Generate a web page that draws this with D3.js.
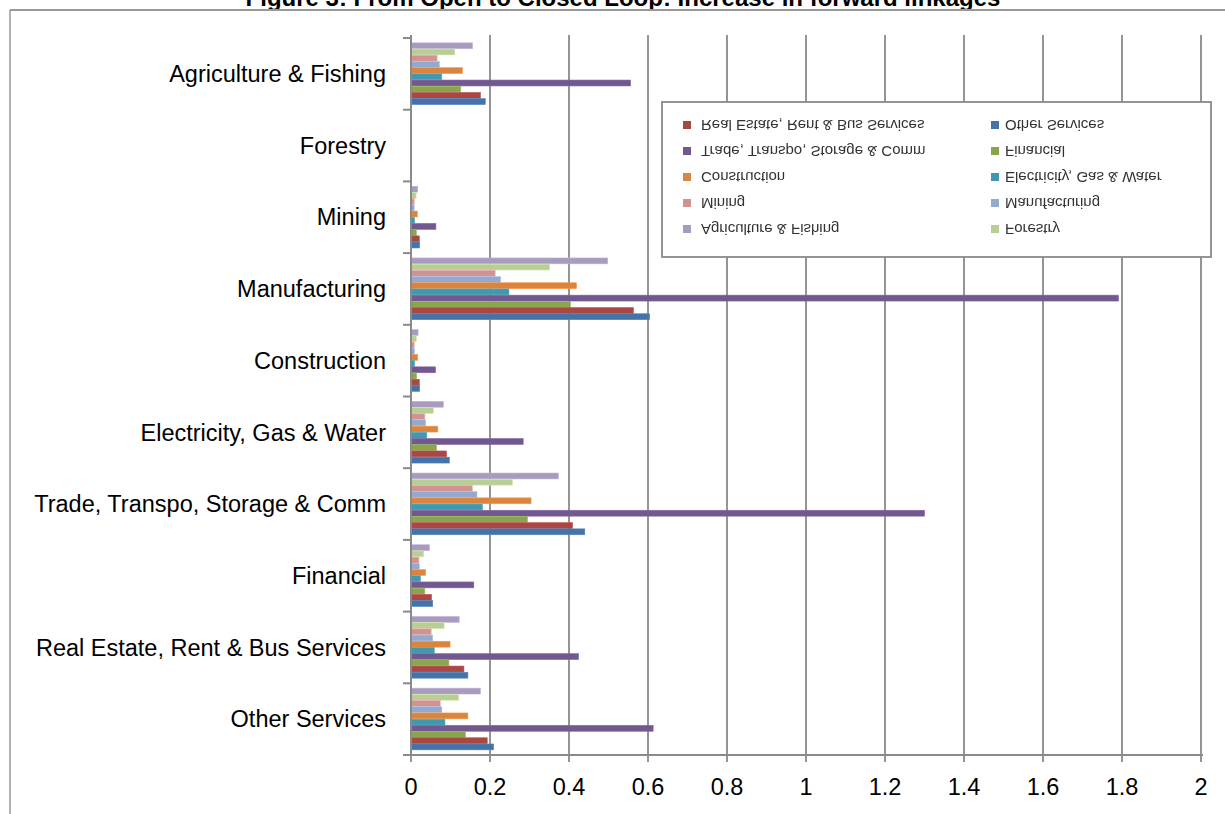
<!DOCTYPE html>
<html>
<head>
<meta charset="utf-8">
<script src="https://cdn.jsdelivr.net/npm/d3@7"></script>
<style>
  html, body { margin: 0; padding: 0; background: #fff; }
  svg { display: block; }
  text { font-family: "Liberation Sans", Arial, sans-serif; fill: #000; }
</style>
</head>
<body>
<svg id="chart" width="1225" height="814"></svg>
<script>
// Sectors on the category axis, top to bottom
const categories = [
  "Agriculture & Fishing", "Forestry", "Mining", "Manufacturing", "Construction",
  "Electricity, Gas & Water", "Trade, Transpo, Storage & Comm", "Financial",
  "Real Estate, Rent & Bus Services", "Other Services"
];

// Forward-linkage increase per series, one value per category above
const agricultureFishing = [0.156, 0, 0.017, 0.498, 0.018, 0.082, 0.373, 0.047, 0.122, 0.176];
const forestry           = [0.111, 0, 0.013, 0.351, 0.0135, 0.057, 0.257, 0.032, 0.084, 0.121];
const mining             = [0.066, 0, 0.008, 0.213, 0.008, 0.035, 0.155, 0.020, 0.051, 0.074];
const manufacturing      = [0.072, 0, 0.008, 0.227, 0.009, 0.037, 0.167, 0.021, 0.055, 0.078];
const construction       = [0.130, 0, 0.016, 0.419, 0.017, 0.068, 0.304, 0.037, 0.099, 0.144];
const electricityGasWater= [0.078, 0, 0.009, 0.248, 0.009, 0.040, 0.181, 0.024, 0.059, 0.086];
const tradeTranspo       = [0.556, 0, 0.063, 1.791, 0.062, 0.284, 1.300, 0.159, 0.424, 0.613];
const financial          = [0.126, 0, 0.0135, 0.404, 0.014, 0.065, 0.295, 0.035, 0.096, 0.138];
const realEstate         = [0.176, 0, 0.021, 0.563, 0.021, 0.090, 0.409, 0.052, 0.134, 0.193];
const otherServices      = [0.188, 0, 0.022, 0.604, 0.022, 0.097, 0.440, 0.055, 0.144, 0.209];

const xTicks = [0, 0.2, 0.4, 0.6, 0.8, 1, 1.2, 1.4, 1.6, 1.8, 2];
const xTickLabels = ["0", "0.2", "0.4", "0.6", "0.8", "1", "1.2", "1.4", "1.6", "1.8", "2"];

// Series, listed in the order their bars stack inside a group (top first)
const series = [
  { name: "Agriculture & Fishing", values: agricultureFishing, color: "#A99BBD" },
  { name: "Forestry", values: forestry, color: "#B9CD96" },
  { name: "Mining", values: mining, color: "#D19392" },
  { name: "Manufacturing", values: manufacturing, color: "#93A9CF" },
  { name: "Construction", values: construction, color: "#DB843D" },
  { name: "Electricity, Gas & Water", values: electricityGasWater, color: "#4198AF" },
  { name: "Trade, Transpo, Storage & Comm", values: tradeTranspo, color: "#71588F" },
  { name: "Financial", values: financial, color: "#89A54E" },
  { name: "Real Estate, Rent & Bus Services", values: realEstate, color: "#AA4643" },
  { name: "Other Services", values: otherServices, color: "#4572A7" }
];

// Legend layout: two columns of five rows
const legendLeft = ["Real Estate, Rent & Bus Services", "Trade, Transpo, Storage & Comm", "Construction", "Mining", "Agriculture & Fishing"];
const legendRight = ["Other Services", "Financial", "Electricity, Gas & Water", "Manufacturing", "Forestry"];

const svg = d3.select("#chart");
const colorOf = new Map(series.map(s => [s.name, s.color]));

const plot = { left: 411, right: 1201, top: 38, bottom: 755 };

const x = d3.scaleLinear().domain([0, 2]).range([plot.left, plot.right]);
const y0 = d3.scaleBand().domain(categories).range([plot.top, plot.bottom])
  .paddingInner(0.135).paddingOuter(0.0675);
const y1 = d3.scaleBand().domain(series.map(s => s.name)).range([0, y0.bandwidth()]);

// Title (sits above the frame line)
svg.append("text")
  .attr("x", 623).attr("y", 6)
  .attr("text-anchor", "middle")
  .style("font-weight", "bold").style("font-size", "24px")
  .text("Figure 3: From Open to Closed Loop: Increase in forward linkages");

// Frame
svg.append("line").attr("x1", 10).attr("x2", 1225).attr("y1", 10).attr("y2", 10)
  .attr("stroke", "#999").attr("stroke-width", 2);
svg.append("line").attr("x1", 10).attr("x2", 10).attr("y1", 10).attr("y2", 814)
  .attr("stroke", "#999").attr("stroke-width", 1.5);

// Vertical gridlines
svg.append("g").selectAll("line")
  .data(xTicks.filter(t => t > 0))
  .join("line")
  .attr("x1", d => x(d)).attr("x2", d => x(d))
  .attr("y1", 35).attr("y2", plot.bottom)
  .attr("stroke", "#8a8a8a").attr("stroke-width", 1.8);

// Bars
const groups = svg.append("g").selectAll("g")
  .data(categories)
  .join("g")
  .attr("transform", d => `translate(0,${y0(d)})`);

groups.selectAll("rect")
  .data((cat, i) => series.map(s => ({ name: s.name, value: s.values[i], color: s.color })))
  .join("rect")
  .attr("x", x(0))
  .attr("y", d => y1(d.name))
  .attr("width", d => x(d.value) - x(0))
  .attr("height", y1.bandwidth() - 0.3)
  .attr("fill", d => d.color)
  .attr("stroke", d => d3.color(d.color).brighter(0.4))
  .attr("stroke-width", d => d.value > 0 ? 0.6 : 0);

// Category axis
const yAxisG = svg.append("g").attr("transform", `translate(${plot.left},0)`);
yAxisG.append("line").attr("x1", 0).attr("x2", 0).attr("y1", 35).attr("y2", plot.bottom)
  .attr("stroke", "#8a8a8a").attr("stroke-width", 2);
const step = y0.step();
const boundaries = d3.range(categories.length + 1).map(i => plot.top + i * step);
yAxisG.selectAll("line.tick").data(boundaries).join("line")
  .attr("class", "tick")
  .attr("x1", -8).attr("x2", 0).attr("y1", d => d).attr("y2", d => d)
  .attr("stroke", "#8a8a8a").attr("stroke-width", 2);
yAxisG.selectAll("text").data(categories).join("text")
  .attr("x", -25)
  .attr("y", d => y0(d) + y0.bandwidth() / 2)
  .attr("dy", "0.35em")
  .attr("text-anchor", "end")
  .style("font-size", "23.5px")
  .text(d => d);

// Value axis
const xAxisG = svg.append("g").attr("transform", `translate(0,${plot.bottom})`);
xAxisG.append("line").attr("x1", plot.left - 8).attr("x2", plot.right + 2).attr("y1", 0).attr("y2", 0)
  .attr("stroke", "#8a8a8a").attr("stroke-width", 2);
xAxisG.selectAll("line.tick").data(xTicks).join("line")
  .attr("class", "tick")
  .attr("x1", d => x(d)).attr("x2", d => x(d)).attr("y1", 0).attr("y2", 7)
  .attr("stroke", "#8a8a8a").attr("stroke-width", 1.8);
xAxisG.selectAll("text").data(xTicks).join("text")
  .attr("x", d => x(d))
  .attr("y", 40)
  .attr("text-anchor", "middle")
  .style("font-size", "23.5px")
  .text((d, i) => xTickLabels[i]);

// Legend (entries drawn mirrored top-to-bottom)
const defs = svg.append("defs");
defs.append("filter").attr("id", "soft")
  .append("feGaussianBlur").attr("stdDeviation", 0.45);

const legend = svg.append("g");
legend.append("rect")
  .attr("x", 662).attr("y", 102).attr("width", 549).attr("height", 155)
  .attr("fill", "#fff").attr("stroke", "#8a8a8a").attr("stroke-width", 1.8);

const rowY = [125, 151, 177, 203, 229];
const legendItems = [
  ...legendLeft.map((n, i) => ({ name: n, mx: 683, tx: 701, y: rowY[i] })),
  ...legendRight.map((n, i) => ({ name: n, mx: 991, tx: 1005, y: rowY[i] }))
];
const items = legend.append("g").attr("filter", "url(#soft)")
  .selectAll("g").data(legendItems).join("g");
items.append("rect")
  .attr("x", d => d.mx).attr("y", d => d.y - 4)
  .attr("width", 8).attr("height", 8)
  .attr("fill", d => colorOf.get(d.name));
items.append("text")
  .attr("transform", d => `translate(${d.tx},${d.y}) scale(1,-1)`)
  .attr("dy", "0.36em")
  .style("font-size", "15px")
  .style("fill", "#333")
  .text(d => d.name);
</script>
</body>
</html>
